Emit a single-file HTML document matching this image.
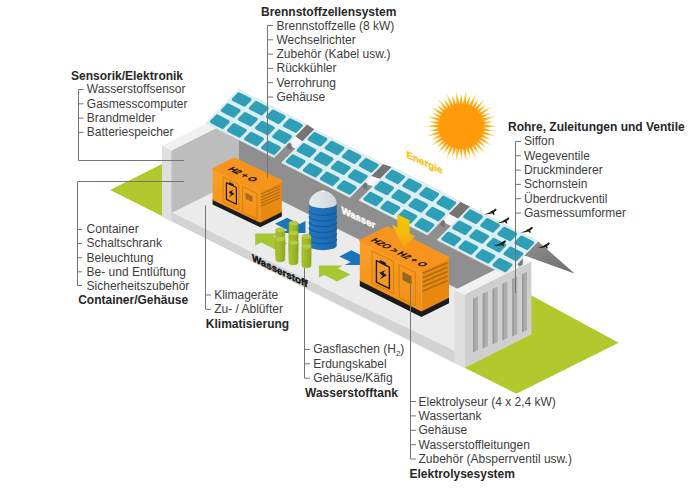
<!DOCTYPE html>
<html lang="de"><head><meta charset="utf-8"><title>Wasserstoff-Container</title>
<style>
html,body{margin:0;padding:0;background:#fff}
svg{display:block}
text{font-family:"Liberation Sans",sans-serif;font-size:12px;fill:#3d3d3d}
.h{font-weight:bold;fill:#272727}
.ln{stroke:#747474;stroke-width:1;fill:none}
</style></head><body>
<svg width="694" height="500" viewBox="0 0 694 500">
<defs>
<linearGradient id="gF" x1="0" y1="0" x2="0" y2="1"><stop offset="0" stop-color="#f9a02a"/><stop offset="1" stop-color="#f28f14"/></linearGradient>
<linearGradient id="gT" x1="0" y1="0" x2="1" y2="0"><stop offset="0" stop-color="#2378c0"/><stop offset="0.5" stop-color="#1d6fb7"/><stop offset="1" stop-color="#1a66aa"/></linearGradient>
<linearGradient id="gD" x1="0" y1="0" x2="1" y2="0"><stop offset="0" stop-color="#e8ecee"/><stop offset="1" stop-color="#cfd6da"/></linearGradient>
<linearGradient id="gC" x1="0" y1="0" x2="1" y2="0"><stop offset="0" stop-color="#a9c432"/><stop offset="0.6" stop-color="#9ab726"/><stop offset="1" stop-color="#89a61c"/></linearGradient>
<linearGradient id="gS" x1="0" y1="0" x2="1" y2="1"><stop offset="0" stop-color="#8e8e8e"/><stop offset="1" stop-color="#6c6c6c"/></linearGradient>
<radialGradient id="gSun" cx="0.5" cy="0.5" r="0.5"><stop offset="0" stop-color="#ff9a0a"/><stop offset="0.60" stop-color="#ff9d0e"/><stop offset="0.75" stop-color="#ffb51f"/><stop offset="0.9" stop-color="#ffd95a"/><stop offset="1" stop-color="#fff0b0"/></radialGradient>
<linearGradient id="gY" x1="0" y1="0" x2="0" y2="1"><stop offset="0" stop-color="#f2c500"/><stop offset="0.6" stop-color="#f3bd08"/><stop offset="1" stop-color="#f7a01c" stop-opacity="0.6"/></linearGradient>
</defs>
<rect width="694" height="500" fill="#fff"/>
<polygon points="110.0,190.0 228.0,131.0 618.7,342.7 516.4,393.7" fill="#b2c92e"/>
<polygon points="162.0,146.0 229.6,112.2 239.0,116.8 521.3,258.0 531.0,262.0 531.0,334.0 464.4,367.7 162.0,216.4" fill="#ebebeb"/>
<polygon points="238.5,116.8 238.5,179.3 470.0,295.0 521.3,269.4 521.3,258.0" fill="#8f8f8f"/>
<polygon points="171.0,150.8 239.0,116.8 239.0,179.5 172.4,212.4 171.0,213.0" fill="#bdbdbd"/>
<polygon points="162.0,145.8 229.6,112.0 239.0,116.8 171.4,150.6" fill="#f1f1f1"/>
<polygon points="171.0,211.9 250.0,251.6 350.0,300.9 410.0,329.3 455.0,351.0 455.0,363.2 162.0,216.4 162.0,211.0" fill="#d3d3d3"/>
<polygon points="162.0,145.8 171.4,150.6 171.4,221.2 162.0,216.4" fill="#dfdfdf"/>
<polygon points="305.5,233.0 305.5,221.0 299.5,224.0 287.0,217.8 275.0,223.8 287.5,230.0 281.5,233.0" fill="#1b75bc"/>
<polygon points="255.2,233.6 255.2,245.6 261.2,242.6 275.2,249.6 287.2,243.6 273.2,236.6 279.2,233.6" fill="#a7c636"/>
<polygon points="368.7,265.0 368.7,253.0 362.7,256.0 351.4,250.3 339.4,256.4 350.7,262.0 344.7,265.0" fill="#1b75bc"/>
<polygon points="319.0,265.6 319.0,277.6 324.2,275.0 337.0,281.4 350.6,274.6 337.8,268.2 343.0,265.6" fill="#a7c636"/>
<polygon points="212.6,198.9 260.2,221.8 281.8,211.0 281.8,216.5 260.2,227.3 212.6,204.4" fill="#1c1c1c"/>
<polygon points="212.6,168.9 260.2,191.8 260.2,222.8 212.6,199.9" fill="url(#gF)"/>
<polygon points="260.2,191.8 281.8,181.0 281.8,212.0 260.2,222.8" fill="#e98a10"/>
<polygon points="212.6,168.9 234.2,158.1 281.8,181.0 260.2,191.8" fill="#f7941e" stroke="#f7941e" stroke-width="1.5" stroke-linejoin="round"/>
<polygon points="223.1,177.0 238.8,184.6 238.8,209.4 223.1,201.8" fill="none" stroke="#dc8008" stroke-width="1.1" stroke-linejoin="round"/>
<polygon points="242.6,186.4 256.9,193.3 256.9,219.0 242.6,212.2" fill="none" stroke="#dc8008" stroke-width="1.1" stroke-linejoin="round"/>
<polygon points="245.9,193.3 252.1,196.3 252.1,201.5 245.9,198.6" fill="#aa6f1c" stroke="#a26a1c" stroke-width="0.6" stroke-linejoin="round"/>
<polygon points="226.4,182.7 236.4,187.5 236.4,204.2 226.4,199.4" fill="none" stroke="#1c1c1c" stroke-width="1.2" stroke-linejoin="round"/>
<polygon points="229.2,184.0 229.2,182.3 233.6,184.5 233.6,186.1" fill="#1c1c1c" stroke="#1c1c1c" stroke-width="0.6"/>
<polygon points="233.4,189.7 228.6,192.1 231.2,194.4 228.8,197.2 234.4,193.9 231.8,192.0" fill="#1c1c1c"/>
<line x1="260.6" y1="194.2" x2="280.2" y2="185.8" stroke="#b06c12" stroke-width="1.25"/>
<line x1="260.6" y1="197.2" x2="280.2" y2="188.8" stroke="#b06c12" stroke-width="1.25"/>
<line x1="260.6" y1="200.2" x2="280.2" y2="191.8" stroke="#b06c12" stroke-width="1.25"/>
<line x1="260.6" y1="203.2" x2="280.2" y2="194.8" stroke="#b06c12" stroke-width="1.25"/>
<line x1="260.6" y1="206.2" x2="280.2" y2="197.8" stroke="#b06c12" stroke-width="1.25"/>
<path d="M309.1,203.4 L309.1,245.4 A13.8,4.8 0 0 0 336.7,245.4 L336.7,203.4 Z" fill="url(#gT)"/>
<path d="M309.1,210.6 A13.8,4.8 0 0 0 336.7,210.6" fill="none" stroke="#185c9d" stroke-width="1.2"/>
<path d="M309.1,216.3 A13.8,4.8 0 0 0 336.7,216.3" fill="none" stroke="#185c9d" stroke-width="1.2"/>
<path d="M309.1,222.0 A13.8,4.8 0 0 0 336.7,222.0" fill="none" stroke="#185c9d" stroke-width="1.2"/>
<path d="M309.1,227.7 A13.8,4.8 0 0 0 336.7,227.7" fill="none" stroke="#185c9d" stroke-width="1.2"/>
<path d="M309.1,233.4 A13.8,4.8 0 0 0 336.7,233.4" fill="none" stroke="#185c9d" stroke-width="1.2"/>
<path d="M309.1,239.1 A13.8,4.8 0 0 0 336.7,239.1" fill="none" stroke="#185c9d" stroke-width="1.2"/>
<path d="M309.1,203.4 C309.1,196.4 315.9,191.9 320.5,191.0 C321.4,190.20000000000002 324.4,190.20000000000002 325.3,191.0 C329.9,191.9 336.7,196.4 336.7,203.4 A13.8,4.8 0 0 1 309.1,203.4 Z" fill="url(#gD)"/>
<ellipse cx="322.9" cy="191.4" rx="2.4" ry="0.9" fill="#f6f7f8"/>
<path d="M289.0,223.4 L289.0,250.0 A4.5,2.3 0 0 0 298.0,250.0 L298.0,223.4 Z" fill="url(#gC)" stroke="#93a823" stroke-width="0.5"/>
<ellipse cx="293.5" cy="223.4" rx="4.5" ry="2.3" fill="#b6ca42" stroke="#a3b830" stroke-width="0.4"/>
<path d="M275.8,230.0 L275.8,255.0 A4.5,2.3 0 0 0 284.8,255.0 L284.8,230.0 Z" fill="url(#gC)" stroke="#93a823" stroke-width="0.5"/>
<ellipse cx="280.3" cy="230.0" rx="4.5" ry="2.3" fill="#b6ca42" stroke="#a3b830" stroke-width="0.4"/>
<path d="M289.0,233.0 L289.0,258.0 A4.5,2.3 0 0 0 298.0,258.0 L298.0,233.0 Z" fill="url(#gC)" stroke="#93a823" stroke-width="0.5"/>
<ellipse cx="293.5" cy="233.0" rx="4.5" ry="2.3" fill="#b6ca42" stroke="#a3b830" stroke-width="0.4"/>
<path d="M302.0,236.6 L302.0,262.0 A4.5,2.3 0 0 0 311.0,262.0 L311.0,236.6 Z" fill="url(#gC)" stroke="#93a823" stroke-width="0.5"/>
<ellipse cx="306.5" cy="236.6" rx="4.5" ry="2.3" fill="#b6ca42" stroke="#a3b830" stroke-width="0.4"/>
<path d="M275.8,239.0 L275.8,259.5 A4.5,2.3 0 0 0 284.8,259.5 L284.8,239.0 Z" fill="url(#gC)" stroke="#93a823" stroke-width="0.5"/>
<ellipse cx="280.3" cy="239.0" rx="4.5" ry="2.3" fill="#b6ca42" stroke="#a3b830" stroke-width="0.4"/>
<path d="M289.0,242.6 L289.0,262.5 A4.5,2.3 0 0 0 298.0,262.5 L298.0,242.6 Z" fill="url(#gC)" stroke="#93a823" stroke-width="0.5"/>
<ellipse cx="293.5" cy="242.6" rx="4.5" ry="2.3" fill="#b6ca42" stroke="#a3b830" stroke-width="0.4"/>
<path d="M302.0,246.4 L302.0,265.5 A4.5,2.3 0 0 0 311.0,265.5 L311.0,246.4 Z" fill="url(#gC)" stroke="#93a823" stroke-width="0.5"/>
<ellipse cx="306.5" cy="246.4" rx="4.5" ry="2.3" fill="#b6ca42" stroke="#a3b830" stroke-width="0.4"/>
<polygon points="359.8,279.7 421.4,310.5 449.0,296.7 449.0,303.2 421.4,317.0 359.8,286.2" fill="#1c1c1c"/>
<polygon points="359.8,240.7 421.4,271.5 421.4,311.5 359.8,280.7" fill="url(#gF)"/>
<polygon points="421.4,271.5 449.0,257.7 449.0,297.7 421.4,311.5" fill="#e98a10"/>
<polygon points="359.8,240.7 387.4,226.9 449.0,257.7 421.4,271.5" fill="#f7941e" stroke="#f7941e" stroke-width="1.5" stroke-linejoin="round"/>
<polygon points="372.1,250.9 393.7,261.6 393.7,293.6 372.1,282.9" fill="none" stroke="#dc8008" stroke-width="1.1" stroke-linejoin="round"/>
<polygon points="399.2,264.4 415.5,272.6 415.5,305.8 399.2,297.6" fill="none" stroke="#dc8008" stroke-width="1.1" stroke-linejoin="round"/>
<polygon points="402.9,272.3 411.2,276.4 411.2,284.0 402.9,279.9" fill="#96681f" stroke="#8d6220" stroke-width="0.6" stroke-linejoin="round"/>
<polygon points="376.4,260.6 389.4,267.1 389.4,288.7 376.4,282.2" fill="none" stroke="#1c1c1c" stroke-width="1.4" stroke-linejoin="round"/>
<polygon points="380.1,262.4 380.1,260.3 385.7,263.1 385.7,265.3" fill="#1c1c1c" stroke="#1c1c1c" stroke-width="0.6"/>
<polygon points="385.5,269.9 379.3,272.8 382.6,275.8 379.5,279.4 386.8,275.3 383.4,272.7" fill="#1c1c1c"/>
<line x1="422.8" y1="273.3" x2="447.6" y2="262.8" stroke="#b06c12" stroke-width="1.6"/>
<line x1="422.8" y1="277.7" x2="447.6" y2="267.2" stroke="#b06c12" stroke-width="1.6"/>
<line x1="422.8" y1="282.1" x2="447.6" y2="271.6" stroke="#b06c12" stroke-width="1.6"/>
<line x1="422.8" y1="286.5" x2="447.6" y2="276.0" stroke="#b06c12" stroke-width="1.6"/>
<line x1="422.8" y1="290.9" x2="447.6" y2="280.4" stroke="#b06c12" stroke-width="1.6"/>
<polygon points="464.4,295.0 531.4,261.5 531.4,334.2 464.4,367.7" fill="#cfcfcf"/>
<polygon points="473.0,298.7 478.0,296.2 478.0,349.9 473.0,352.4" fill="#acacac"/>
<polygon points="473.0,298.7 474.6,297.9 474.6,351.6 473.0,352.4" fill="#9b9b9b"/>
<polygon points="482.8,293.8 487.8,291.3 487.8,345.9 482.8,348.4" fill="#acacac"/>
<polygon points="482.8,293.8 484.4,293.0 484.4,347.6 482.8,348.4" fill="#9b9b9b"/>
<polygon points="492.6,288.9 497.6,286.4 497.6,341.9 492.6,344.4" fill="#acacac"/>
<polygon points="492.6,288.9 494.2,288.1 494.2,343.6 492.6,344.4" fill="#9b9b9b"/>
<polygon points="502.4,284.0 507.4,281.5 507.4,337.9 502.4,340.4" fill="#acacac"/>
<polygon points="502.4,284.0 504.0,283.2 504.0,339.6 502.4,340.4" fill="#9b9b9b"/>
<polygon points="512.2,279.1 517.2,276.6 517.2,333.9 512.2,336.4" fill="#acacac"/>
<polygon points="512.2,279.1 513.8,278.3 513.8,335.6 512.2,336.4" fill="#9b9b9b"/>
<polygon points="522.0,274.2 527.0,271.7 527.0,329.9 522.0,332.4" fill="#acacac"/>
<polygon points="522.0,274.2 523.6,273.4 523.6,331.6 522.0,332.4" fill="#9b9b9b"/>
<polygon points="454.3,290.2 464.4,295.0 464.4,367.7 454.3,363.0" fill="#dfdfdf"/>
<polygon points="454.3,290.2 521.3,256.7 531.4,261.5 464.4,295.0" fill="#f1f1f1"/>
<polygon points="306.9,124.3 314.4,129.4 302.6,141.4 295.1,136.3" fill="#757373"/>
<polygon points="295.1,136.3 302.6,141.4 295.4,148.7 287.9,143.6" fill="#f6f6f6"/>
<polygon points="286.9,141.4 291.5,143.7 291.5,150.2 286.9,147.9" fill="#747474"/>
<polygon points="382.7,164.1 392.0,167.0 380.2,179.0 370.9,176.1" fill="#757373"/>
<polygon points="370.9,176.1 380.2,179.0 373.0,186.3 363.7,183.4" fill="#f6f6f6"/>
<polygon points="362.7,181.2 367.3,183.5 367.3,190.0 362.7,187.7" fill="#747474"/>
<polygon points="460.3,201.7 470.0,206.8 458.2,218.8 448.5,213.7" fill="#757373"/>
<polygon points="448.5,213.7 458.2,218.8 451.0,226.1 441.3,221.0" fill="#f6f6f6"/>
<polygon points="440.3,218.8 444.9,221.1 444.9,227.6 440.3,225.3" fill="#747474"/>
<polygon points="238.6,89.6 306.9,124.3 274.1,157.6 205.8,122.9" fill="#dceff5" stroke="#e9dede" stroke-width="0.8"/>
<polygon points="238.9,93.9 249.9,99.5 244.4,105.0 233.5,99.5" fill="#2f9fb8" stroke="#2f9fb8" stroke-width="3.4" stroke-linejoin="round"/>
<polygon points="228.0,105.0 238.9,110.6 233.5,116.1 222.5,110.6" fill="#2f9fb8" stroke="#2f9fb8" stroke-width="3.4" stroke-linejoin="round"/>
<polygon points="217.1,116.1 228.0,121.7 222.5,127.2 211.6,121.7" fill="#2f9fb8" stroke="#2f9fb8" stroke-width="3.4" stroke-linejoin="round"/>
<polygon points="256.0,102.6 266.9,108.2 261.5,113.7 250.5,108.2" fill="#2f9fb8" stroke="#2f9fb8" stroke-width="3.4" stroke-linejoin="round"/>
<polygon points="245.1,113.7 256.0,119.3 250.5,124.8 239.6,119.3" fill="#2f9fb8" stroke="#2f9fb8" stroke-width="3.4" stroke-linejoin="round"/>
<polygon points="234.1,124.8 245.1,130.4 239.6,135.9 228.7,130.4" fill="#2f9fb8" stroke="#2f9fb8" stroke-width="3.4" stroke-linejoin="round"/>
<polygon points="273.1,111.3 284.0,116.8 278.6,122.4 267.6,116.8" fill="#2f9fb8" stroke="#2f9fb8" stroke-width="3.4" stroke-linejoin="round"/>
<polygon points="262.2,122.4 273.1,127.9 267.6,133.5 256.7,127.9" fill="#2f9fb8" stroke="#2f9fb8" stroke-width="3.4" stroke-linejoin="round"/>
<polygon points="251.2,133.5 262.2,139.0 256.7,144.6 245.8,139.0" fill="#2f9fb8" stroke="#2f9fb8" stroke-width="3.4" stroke-linejoin="round"/>
<polygon points="290.2,120.0 301.1,125.5 295.6,131.1 284.7,125.5" fill="#2f9fb8" stroke="#2f9fb8" stroke-width="3.4" stroke-linejoin="round"/>
<polygon points="279.2,131.1 290.2,136.6 284.7,142.2 273.8,136.6" fill="#2f9fb8" stroke="#2f9fb8" stroke-width="3.4" stroke-linejoin="round"/>
<polygon points="268.3,142.2 279.2,147.7 273.8,153.3 262.8,147.7" fill="#2f9fb8" stroke="#2f9fb8" stroke-width="3.4" stroke-linejoin="round"/>
<polygon points="314.4,129.4 382.7,164.1 349.9,197.4 281.6,162.7" fill="#dceff5" stroke="#e9dede" stroke-width="0.8"/>
<polygon points="314.7,133.7 325.7,139.3 320.2,144.8 309.3,139.3" fill="#2f9fb8" stroke="#2f9fb8" stroke-width="3.4" stroke-linejoin="round"/>
<polygon points="303.8,144.8 314.7,150.4 309.3,155.9 298.3,150.4" fill="#2f9fb8" stroke="#2f9fb8" stroke-width="3.4" stroke-linejoin="round"/>
<polygon points="292.9,155.9 303.8,161.5 298.3,167.0 287.4,161.5" fill="#2f9fb8" stroke="#2f9fb8" stroke-width="3.4" stroke-linejoin="round"/>
<polygon points="331.8,142.4 342.7,148.0 337.3,153.5 326.3,148.0" fill="#2f9fb8" stroke="#2f9fb8" stroke-width="3.4" stroke-linejoin="round"/>
<polygon points="320.9,153.5 331.8,159.1 326.3,164.6 315.4,159.1" fill="#2f9fb8" stroke="#2f9fb8" stroke-width="3.4" stroke-linejoin="round"/>
<polygon points="309.9,164.6 320.9,170.2 315.4,175.7 304.5,170.2" fill="#2f9fb8" stroke="#2f9fb8" stroke-width="3.4" stroke-linejoin="round"/>
<polygon points="348.9,151.1 359.8,156.6 354.4,162.2 343.4,156.6" fill="#2f9fb8" stroke="#2f9fb8" stroke-width="3.4" stroke-linejoin="round"/>
<polygon points="338.0,162.2 348.9,167.7 343.4,173.3 332.5,167.7" fill="#2f9fb8" stroke="#2f9fb8" stroke-width="3.4" stroke-linejoin="round"/>
<polygon points="327.0,173.3 338.0,178.8 332.5,184.4 321.6,178.8" fill="#2f9fb8" stroke="#2f9fb8" stroke-width="3.4" stroke-linejoin="round"/>
<polygon points="366.0,159.8 376.9,165.3 371.4,170.9 360.5,165.3" fill="#2f9fb8" stroke="#2f9fb8" stroke-width="3.4" stroke-linejoin="round"/>
<polygon points="355.0,170.9 366.0,176.4 360.5,182.0 349.6,176.4" fill="#2f9fb8" stroke="#2f9fb8" stroke-width="3.4" stroke-linejoin="round"/>
<polygon points="344.1,182.0 355.0,187.5 349.6,193.1 338.6,187.5" fill="#2f9fb8" stroke="#2f9fb8" stroke-width="3.4" stroke-linejoin="round"/>
<polygon points="392.0,167.0 460.3,201.7 427.5,235.0 359.2,200.3" fill="#dceff5" stroke="#e9dede" stroke-width="0.8"/>
<polygon points="392.3,171.3 403.3,176.9 397.8,182.4 386.9,176.9" fill="#2f9fb8" stroke="#2f9fb8" stroke-width="3.4" stroke-linejoin="round"/>
<polygon points="381.4,182.4 392.3,188.0 386.9,193.5 375.9,188.0" fill="#2f9fb8" stroke="#2f9fb8" stroke-width="3.4" stroke-linejoin="round"/>
<polygon points="370.5,193.5 381.4,199.1 375.9,204.6 365.0,199.1" fill="#2f9fb8" stroke="#2f9fb8" stroke-width="3.4" stroke-linejoin="round"/>
<polygon points="409.4,180.0 420.3,185.6 414.9,191.1 403.9,185.6" fill="#2f9fb8" stroke="#2f9fb8" stroke-width="3.4" stroke-linejoin="round"/>
<polygon points="398.5,191.1 409.4,196.7 403.9,202.2 393.0,196.7" fill="#2f9fb8" stroke="#2f9fb8" stroke-width="3.4" stroke-linejoin="round"/>
<polygon points="387.5,202.2 398.5,207.8 393.0,213.3 382.1,207.8" fill="#2f9fb8" stroke="#2f9fb8" stroke-width="3.4" stroke-linejoin="round"/>
<polygon points="426.5,188.7 437.4,194.2 432.0,199.8 421.0,194.2" fill="#2f9fb8" stroke="#2f9fb8" stroke-width="3.4" stroke-linejoin="round"/>
<polygon points="415.6,199.8 426.5,205.3 421.0,210.9 410.1,205.3" fill="#2f9fb8" stroke="#2f9fb8" stroke-width="3.4" stroke-linejoin="round"/>
<polygon points="404.6,210.9 415.6,216.4 410.1,222.0 399.2,216.4" fill="#2f9fb8" stroke="#2f9fb8" stroke-width="3.4" stroke-linejoin="round"/>
<polygon points="443.6,197.4 454.5,202.9 449.0,208.5 438.1,202.9" fill="#2f9fb8" stroke="#2f9fb8" stroke-width="3.4" stroke-linejoin="round"/>
<polygon points="432.6,208.5 443.6,214.0 438.1,219.6 427.2,214.0" fill="#2f9fb8" stroke="#2f9fb8" stroke-width="3.4" stroke-linejoin="round"/>
<polygon points="421.7,219.6 432.6,225.1 427.2,230.7 416.2,225.1" fill="#2f9fb8" stroke="#2f9fb8" stroke-width="3.4" stroke-linejoin="round"/>
<polygon points="470.0,206.8 538.3,241.5 505.5,274.8 437.2,240.1" fill="#dceff5" stroke="#e9dede" stroke-width="0.8"/>
<polygon points="470.3,211.1 481.3,216.7 475.8,222.2 464.9,216.7" fill="#2f9fb8" stroke="#2f9fb8" stroke-width="3.4" stroke-linejoin="round"/>
<polygon points="459.4,222.2 470.3,227.8 464.9,233.3 453.9,227.8" fill="#2f9fb8" stroke="#2f9fb8" stroke-width="3.4" stroke-linejoin="round"/>
<polygon points="448.5,233.3 459.4,238.9 453.9,244.4 443.0,238.9" fill="#2f9fb8" stroke="#2f9fb8" stroke-width="3.4" stroke-linejoin="round"/>
<polygon points="487.4,219.8 498.3,225.4 492.9,230.9 481.9,225.4" fill="#2f9fb8" stroke="#2f9fb8" stroke-width="3.4" stroke-linejoin="round"/>
<polygon points="476.5,230.9 487.4,236.5 481.9,242.0 471.0,236.5" fill="#2f9fb8" stroke="#2f9fb8" stroke-width="3.4" stroke-linejoin="round"/>
<polygon points="465.5,242.0 476.5,247.6 471.0,253.1 460.1,247.6" fill="#2f9fb8" stroke="#2f9fb8" stroke-width="3.4" stroke-linejoin="round"/>
<polygon points="504.5,228.5 515.4,234.0 510.0,239.6 499.0,234.0" fill="#2f9fb8" stroke="#2f9fb8" stroke-width="3.4" stroke-linejoin="round"/>
<polygon points="493.6,239.6 504.5,245.1 499.0,250.7 488.1,245.1" fill="#2f9fb8" stroke="#2f9fb8" stroke-width="3.4" stroke-linejoin="round"/>
<polygon points="482.6,250.7 493.6,256.2 488.1,261.8 477.2,256.2" fill="#2f9fb8" stroke="#2f9fb8" stroke-width="3.4" stroke-linejoin="round"/>
<polygon points="521.6,237.2 532.5,242.7 527.0,248.3 516.1,242.7" fill="#2f9fb8" stroke="#2f9fb8" stroke-width="3.4" stroke-linejoin="round"/>
<polygon points="510.6,248.3 521.6,253.8 516.1,259.4 505.2,253.8" fill="#2f9fb8" stroke="#2f9fb8" stroke-width="3.4" stroke-linejoin="round"/>
<polygon points="499.7,259.4 510.6,264.9 505.2,270.5 494.2,264.9" fill="#2f9fb8" stroke="#2f9fb8" stroke-width="3.4" stroke-linejoin="round"/>
<polygon points="538.3,241.5 574.5,273.5 524.5,255.5" fill="url(#gS)"/>
<polygon points="517.5,264.5 522.8,258.2 522.8,264.8 519.5,266.4" fill="#7a7a7a"/>
<g transform="translate(490.4,211.8) scale(1.0)" fill="#1c1c1c"><path d="M-6.2,2.7 L-1.6,0.9 C0.4,0 2.6,-1.4 4.2,-2.6 C5,-3.3 6.3,-3.1 6.1,-2 C5.9,-0.9 4.4,0.2 2.8,1 C0.6,2 -2.6,2.6 -6.2,2.7 Z"/><path d="M0.2,-0.2 L2.8,-1.2 L4.3,2.6 L3.3,3.1 Z"/></g>
<g transform="translate(503.2,220.6) scale(1.0)" fill="#1c1c1c"><path d="M-6.2,2.7 L-1.6,0.9 C0.4,0 2.6,-1.4 4.2,-2.6 C5,-3.3 6.3,-3.1 6.1,-2 C5.9,-0.9 4.4,0.2 2.8,1 C0.6,2 -2.6,2.6 -6.2,2.7 Z"/><path d="M0.2,-0.2 L2.8,-1.2 L4.3,2.6 L3.3,3.1 Z"/></g>
<g transform="translate(526.6,230.0) scale(1.0)" fill="#1c1c1c"><path d="M-6.2,2.7 L-1.6,0.9 C0.4,0 2.6,-1.4 4.2,-2.6 C5,-3.3 6.3,-3.1 6.1,-2 C5.9,-0.9 4.4,0.2 2.8,1 C0.6,2 -2.6,2.6 -6.2,2.7 Z"/><path d="M0.2,-0.2 L2.8,-1.2 L4.3,2.6 L3.3,3.1 Z"/></g>
<g transform="translate(499.8,243.4) scale(1.0)" fill="#1c1c1c"><path d="M-6.2,2.7 L-1.6,0.9 C0.4,0 2.6,-1.4 4.2,-2.6 C5,-3.3 6.3,-3.1 6.1,-2 C5.9,-0.9 4.4,0.2 2.8,1 C0.6,2 -2.6,2.6 -6.2,2.7 Z"/><path d="M0.2,-0.2 L2.8,-1.2 L4.3,2.6 L3.3,3.1 Z"/></g>
<g transform="translate(543.6,245.6) scale(1.0)" fill="#1c1c1c"><path d="M-6.2,2.7 L-1.6,0.9 C0.4,0 2.6,-1.4 4.2,-2.6 C5,-3.3 6.3,-3.1 6.1,-2 C5.9,-0.9 4.4,0.2 2.8,1 C0.6,2 -2.6,2.6 -6.2,2.7 Z"/><path d="M0.2,-0.2 L2.8,-1.2 L4.3,2.6 L3.3,3.1 Z"/></g>
<polygon points="498.2,126.2 483.1,127.8 493.9,130.9 482.7,130.9 496.7,136.6 481.8,133.9 491.2,139.9 480.5,136.7 492.3,146.2 478.8,139.4 486.1,147.8 476.8,141.8 485.4,154.2 474.4,143.8 479.0,154.0 471.7,145.5 476.6,159.9 468.9,146.8 470.5,157.9 465.9,147.7 466.5,162.8 462.8,148.1 461.2,159.2 459.6,148.1 455.9,162.8 456.5,147.7 451.9,157.9 453.5,146.8 445.8,159.9 450.7,145.5 443.4,154.0 448.0,143.8 437.0,154.2 445.6,141.8 436.3,147.8 443.6,139.4 430.1,146.2 441.9,136.7 431.2,139.9 440.6,133.9 425.7,136.6 439.7,130.9 428.5,130.9 439.3,127.8 424.2,126.2 439.3,124.6 428.5,121.5 439.7,121.5 425.7,115.8 440.6,118.5 431.2,112.5 441.9,115.7 430.1,106.2 443.6,113.0 436.3,104.6 445.6,110.6 437.0,98.2 448.0,108.6 443.4,98.4 450.7,106.9 445.8,92.5 453.5,105.6 451.9,94.5 456.5,104.7 455.9,89.6 459.6,104.3 461.2,93.2 462.8,104.3 466.5,89.6 465.9,104.7 470.5,94.5 468.9,105.6 476.6,92.5 471.7,106.9 479.0,98.4 474.4,108.6 485.4,98.2 476.8,110.6 486.1,104.6 478.8,113.0 492.3,106.2 480.5,115.7 491.2,112.5 481.8,118.5 496.7,115.8 482.7,121.5 493.9,121.5 483.1,124.6" fill="url(#gSun)"/>
<circle cx="461.2" cy="126.2" r="22.5" fill="#ff9a0a"/>
<polygon points="397.4,214.2 409.6,220.3 409.6,233.5 415.2,236.3 403.6,247.8 391.8,224.6 397.4,227.4" fill="url(#gY)"/>
<text class="h" x="71" y="79.5">Sensorik/Elektronik</text>
<text x="86.8" y="93.4">Wasserstoffsensor</text>
<text x="86.8" y="107.7">Gasmesscomputer</text>
<text x="86.8" y="122.0">Brandmelder</text>
<text x="86.8" y="136.3">Batteriespeicher</text>
<path class="ln" d="M78.5,89.5 V160.5"/>
<path class="ln" d="M78.5,89.5 H83.5"/>
<path class="ln" d="M78.5,103.8 H83.5"/>
<path class="ln" d="M78.5,118.1 H83.5"/>
<path class="ln" d="M78.5,132.4 H83.5"/>
<path class="ln" d="M78.5,160.5 H184"/>
<text class="h" x="261" y="15.7">Brennstoffzellensystem</text>
<text x="276.5" y="29.5">Brennstoffzelle (8 kW)</text>
<text x="276.5" y="43.8">Wechselrichter</text>
<text x="276.5" y="58.1">Zubehör (Kabel usw.)</text>
<text x="276.5" y="72.4">Rückkühler</text>
<text x="276.5" y="86.7">Verrohrung</text>
<text x="276.5" y="101.0">Gehäuse</text>
<path class="ln" d="M267.5,25.5 V178"/>
<path class="ln" d="M267.5,25.5 H273"/>
<path class="ln" d="M267.5,39.8 H273"/>
<path class="ln" d="M267.5,54.1 H273"/>
<path class="ln" d="M267.5,68.4 H273"/>
<path class="ln" d="M267.5,82.7 H273"/>
<path class="ln" d="M267.5,97.0 H273"/>
<path class="ln" d="M184,181.5 H77.5 V285.5"/>
<path class="ln" d="M77.5,229.5 H82"/>
<path class="ln" d="M77.5,243.6 H82"/>
<path class="ln" d="M77.5,257.7 H82"/>
<path class="ln" d="M77.5,271.8 H82"/>
<path class="ln" d="M77.5,285.5 H82"/>
<text x="86.6" y="233.3">Container</text>
<text x="86.6" y="247.4">Schaltschrank</text>
<text x="86.6" y="261.5">Beleuchtung</text>
<text x="86.6" y="275.6">Be- und Entlüftung</text>
<text x="86.6" y="289.7">Sicherheitszubehör</text>
<text class="h" x="78.2" y="304">Container/Gehäuse</text>
<path class="ln" d="M205.5,205.5 V309.3"/>
<path class="ln" d="M205.5,295 H211"/>
<path class="ln" d="M205.5,309.3 H211"/>
<text x="214.2" y="298.9">Klimageräte</text>
<text x="214.2" y="313.2">Zu- / Ablüfter</text>
<text class="h" x="205.8" y="327.6">Klimatisierung</text>
<path class="ln" d="M304.5,268 V378.2"/>
<path class="ln" d="M304.5,349.5 H310"/>
<path class="ln" d="M304.5,363.8 H310"/>
<path class="ln" d="M304.5,378.2 H310"/>
<text x="313.2" y="353.4">Gasflaschen (H<tspan font-size="8" dy="2.5">2</tspan><tspan dy="-2.5">)</tspan></text>
<text x="313.2" y="367.7">Erdungskabel</text>
<text x="313.2" y="382.0">Gehäuse/Käfig</text>
<text class="h" x="305" y="396.5">Wasserstofftank</text>
<path class="ln" d="M410.5,283 V459.0"/>
<path class="ln" d="M410.5,401.5 H416"/>
<path class="ln" d="M410.5,415.9 H416"/>
<path class="ln" d="M410.5,430.3 H416"/>
<path class="ln" d="M410.5,444.7 H416"/>
<path class="ln" d="M410.5,459.0 H416"/>
<text x="418.5" y="405.6">Elektrolyseur (4 x 2,4 kW)</text>
<text x="418.5" y="420.0">Wassertank</text>
<text x="418.5" y="434.4">Gehäuse</text>
<text x="418.5" y="448.8">Wasserstoffleitungen</text>
<text x="418.5" y="463.2">Zubehör (Absperrventil usw.)</text>
<text class="h" x="409.5" y="477.8">Elektrolysesystem</text>
<text class="h" x="508" y="131">Rohre, Zuleitungen und Ventile</text>
<text x="524" y="145.4">Siffon</text>
<text x="524" y="159.7">Wegeventile</text>
<text x="524" y="174.0">Druckminderer</text>
<text x="524" y="188.3">Schornstein</text>
<text x="524" y="202.6">Überdruckventil</text>
<text x="524" y="216.9">Gasmessumformer</text>
<path class="ln" d="M515.5,141.5 V293"/>
<path class="ln" d="M515.5,141.5 H521"/>
<path class="ln" d="M515.5,155.8 H521"/>
<path class="ln" d="M515.5,170.1 H521"/>
<path class="ln" d="M515.5,184.4 H521"/>
<path class="ln" d="M515.5,198.7 H521"/>
<path class="ln" d="M515.5,213.0 H521"/>
<text transform="matrix(1,0.46,0,1,406.5,157.4)" x="0" y="0" style="font-size:9.8px;font-weight:bold;fill:#f4c321;stroke:#f4c321;stroke-width:0.35">Energie</text>
<text transform="matrix(1,0.48,0,1,251.9,260.8)" x="0" y="0" style="font-size:9.8px;font-weight:bold;fill:#111;stroke:#111;stroke-width:0.45">Wasserstoff</text>
<text transform="matrix(1,0.47,0,1,341.5,213)" x="0" y="0" style="font-size:9.6px;font-weight:bold;fill:#fff;stroke:#fff;stroke-width:0.45">Wasser</text>
<text transform="matrix(0.894,0.447,-0.92,0.46,227.2,169.4)" x="0" y="0" style="font-size:9px;font-weight:bold;fill:#111;stroke:#111;stroke-width:0.25">H2 + O</text>
<text transform="matrix(0.894,0.447,-0.92,0.46,370.0,240.8)" x="0" y="0" style="font-size:9.2px;font-weight:bold;fill:#111;stroke:#111;stroke-width:0.15">H2O &gt; H2 + O</text>
</svg>
</body></html>
